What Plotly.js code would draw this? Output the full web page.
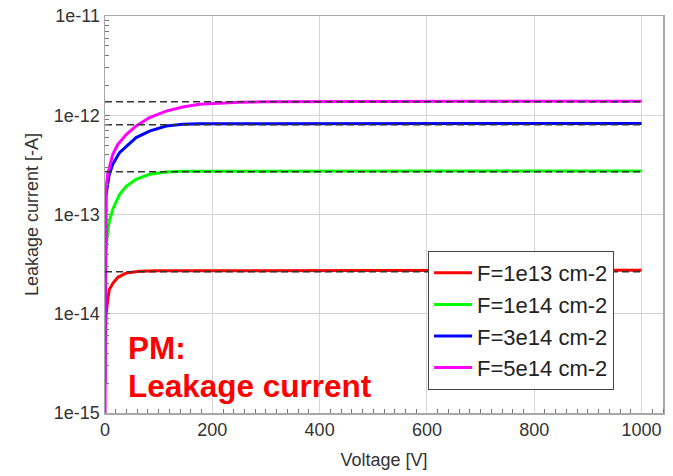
<!DOCTYPE html>
<html>
<head>
<meta charset="utf-8">
<script src="https://cdn.plot.ly/plotly-3.0.1.min.js"></script>
<style>
  html, body { margin: 0; padding: 0; background: #fff; }
  #chart { width: 673px; height: 476px; }
</style>
</head>
<body>
<div id="chart"></div>
<script>
// Leakage current vs bias voltage for four fluences
const labels = ["F=1e13 cm-2", "F=1e14 cm-2", "F=3e14 cm-2", "F=5e14 cm-2"];
const colors = ["#ff0000", "#00ff00", "#0000ff", "#ff00ff"];

const v_1e13 = [0, 2, 5, 8, 15, 24, 40, 64, 100, 200, 300, 400, 500, 600, 700, 800, 900, 1000];
const i_1e13 = [5e-15, 9.8e-15, 1.38e-14, 1.75e-14, 2.04e-14, 2.33e-14, 2.58e-14, 2.68e-14, 2.71e-14, 2.72e-14,
                2.72e-14, 2.73e-14, 2.74e-14, 2.74e-14, 2.74e-14, 2.74e-14, 2.74e-14, 2.74e-14];

const v_1e14 = [0, 2, 4, 8, 15, 27, 40, 58, 83, 114, 145, 200, 300, 400, 600, 800, 1000];
const i_1e14 = [3.3e-14, 4.4e-14, 6.1e-14, 8.5e-14, 1.15e-13, 1.59e-13, 1.93e-13, 2.26e-13, 2.54e-13, 2.68e-13,
                2.72e-13, 2.73e-13, 2.74e-13, 2.74e-13, 2.74e-13, 2.74e-13, 2.74e-13];

const v_3e14 = [0, 2, 8, 14.5, 27, 40, 58, 83, 114, 145, 176, 300, 500, 700, 1000];
const i_3e14 = [2e-15, 1.59e-13, 2.54e-13, 3.2e-13, 4.2e-13, 4.9e-13, 5.96e-13, 6.93e-13, 7.8e-13, 8.11e-13,
                8.2e-13, 8.22e-13, 8.24e-13, 8.25e-13, 8.25e-13];

const v_5e14 = [0, 1, 5, 14.5, 24, 40, 58, 83, 114, 145, 176, 195, 250, 300, 500, 700, 1000];
const i_5e14 = [5e-16, 1.6e-13, 2.54e-13, 4.04e-13, 5.09e-13, 6.43e-13, 7.8e-13, 9.48e-13, 1.1e-12, 1.21e-12,
                1.29e-12, 1.31e-12, 1.35e-12, 1.37e-12, 1.38e-12, 1.38e-12, 1.38e-12];

// saturation levels (dashed reference lines)
const satLevels = [2.65e-14, 2.69e-13, 8.0e-13, 1.37e-12];
const satRange = [0, 1000];

const yTickVals = [1e-15, 1e-14, 1e-13, 1e-12, 1e-11];
const yTickText = ["1e-15", "1e-14", "1e-13", "1e-12", "1e-11"];

const series = [[v_1e13, i_1e13], [v_1e14, i_1e14], [v_3e14, i_3e14], [v_5e14, i_5e14]];

const yMinor = [];
for (let d = -15; d < -11; d++) {
  for (let m = 2; m <= 9; m++) yMinor.push(m * Math.pow(10, d));
}

const traces = series.map((s, k) => ({
  x: s[0], y: s[1], name: labels[k], type: "scatter", mode: "lines",
  line: { color: colors[k], width: 3 }
}));
satLevels.forEach(lv => traces.push({
  x: satRange, y: [lv, lv], type: "scatter", mode: "lines", showlegend: false,
  hoverinfo: "skip", line: { color: "#333", width: 1.5, dash: "7px,4px" }
}));

const font = "Liberation Sans, Arial, sans-serif";

const layout = {
  width: 673, height: 476,
  margin: { l: 105, r: 10, t: 16, b: 63 },
  paper_bgcolor: "#fff", plot_bgcolor: "#fff",
  font: { family: font, size: 18, color: "#333" },
  showlegend: true,
  legend: {
    x: 0.579, y: 0.408, xanchor: "left", yanchor: "top",
    bgcolor: "#fff", bordercolor: "#444", borderwidth: 1,
    font: { family: font, size: 22, color: "#222" },
    itemwidth: 38, traceorder: "normal"
  },
  xaxis: {
    range: [0, 1040], dtick: 200, tick0: 0,
    showgrid: true, gridcolor: "#d4d4d4", gridwidth: 1,
    showline: true, linecolor: "#a8a8a8", linewidth: 1.5, mirror: true,
    ticks: "", zeroline: false,
    tickfont: { size: 18, color: "#333" },
    minor: { dtick: 20, ticks: "inside", ticklen: 4, tickcolor: "#777", tickwidth: 1, showgrid: false },
    title: { text: "Voltage [V]", font: { size: 18, color: "#333" }, standoff: 14 }
  },
  yaxis: {
    type: "log", range: [-15, -11],
    tickmode: "array", tickvals: yTickVals, ticktext: yTickText,
    showgrid: true, gridcolor: "#d4d4d4", gridwidth: 1,
    showline: true, linecolor: "#a8a8a8", linewidth: 1.5, mirror: true,
    ticks: "inside", ticklen: 5, tickcolor: "#777",
    tickfont: { size: 18, color: "#333" },
    minor: { tickmode: "array", tickvals: yMinor, ticks: "inside", ticklen: 4, tickcolor: "#777", tickwidth: 1, showgrid: false },
    title: { text: "Leakage current [-A]", font: { size: 18, color: "#333" }, standoff: 10 }
  },
  annotations: [
    { text: "<b>PM:</b>", xref: "paper", yref: "paper", x: 0.037, y: 0.164,
      xanchor: "left", yanchor: "middle", showarrow: false,
      font: { family: font, size: 31.5, color: "#ff0000" } },
    { text: "<b>Leakage current</b>", xref: "paper", yref: "paper", x: 0.037, y: 0.068,
      xanchor: "left", yanchor: "middle", showarrow: false,
      font: { family: font, size: 31.5, color: "#ff0000" } }
  ]
};

Plotly.newPlot("chart", traces, layout, { displayModeBar: false, staticPlot: true });
</script>
</body>
</html>
